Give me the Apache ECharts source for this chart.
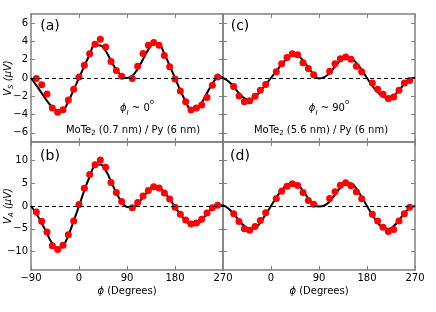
<!DOCTYPE html>
<html><head><meta charset="utf-8">
<script src="https://cdn.jsdelivr.net/npm/echarts@6/dist/echarts.min.js"></script>
<style>html,body{margin:0;padding:0;background:#fff}#c{width:436px;height:312px}</style>
</head><body><div id="c"></div>
<script>
// ---- data ----
const xTicks = [-90, 0, 90, 180, 270];
const yTicksS = [-6, -4, -2, 0, 2, 4, 6];
const yTicksA = [-10, -5, 0, 5, 10];

const curveAng = [-90,-80,-70,-60,-50,-40,-30,-20,-10,0,10,20,30,40,50,60,70,80,90,100,110,120,130,140,150,160,170,180,190,200,210,220,230,240,250,260,270];
const curveA = [0,-0.8,-1.65,-2.5,-3.2,-3.6,-3.5,-2.55,-1.3,0,1.3,2.55,3.6,3.55,2.95,1.9,0.9,0.25,0,0.25,1.0,2.05,3.1,3.75,3.65,2.65,1.35,0,-1.35,-2.55,-3.4,-3.4,-2.7,-1.65,-0.65,0.02,0.1];
const curveB = [0,-1.7,-3.7,-6.0,-8.2,-9.3,-8.7,-6.4,-3.3,0,3.4,6.4,8.8,9.1,7.8,5.4,2.9,0.9,-0.2,-0.3,0.5,1.9,3.3,4.2,4.05,3.0,1.5,-0.2,-1.8,-3.2,-4.1,-4.05,-3.1,-1.7,-0.4,0.25,0.05];
const curveC = [0,-0.35,-0.95,-1.65,-2.2,-2.42,-2.1,-1.45,-0.72,0,0.75,1.5,2.1,2.45,2.4,1.9,1.15,0.4,-0.05,0.1,0.55,1.25,1.9,2.22,2.15,1.65,0.9,0,-0.85,-1.55,-2.05,-2.22,-1.95,-1.35,-0.65,-0.15,0.02];
const curveD = [0.2,-0.55,-1.75,-3.15,-4.35,-5.0,-4.8,-3.6,-1.85,0,1.85,3.45,4.6,5.05,4.6,3.35,1.7,0.45,-0.12,0.1,1.0,2.5,4.0,5.0,4.95,3.8,1.95,0,-1.95,-3.65,-4.75,-5.0,-4.4,-3.1,-1.6,-0.5,0];

const angAB = [-80,-70,-60,-50,-40,-30,-20,-10,0,10,20,30,40,50,60,70,80,100,110,120,130,140,150,160,170,180,190,200,210,220,230,240,250,260];
const ptsA = [-0.05,-0.73,-1.75,-3.29,-3.75,-3.48,-2.4,-1.24,0.11,1.4,2.65,3.7,4.24,3.4,1.8,0.82,0.18,-0.05,1.28,2.68,3.57,3.88,3.57,2.45,1.22,-0.12,-1.41,-2.6,-3.49,-3.27,-2.96,-2.12,-0.8,0.12];
const ptsB = [-1.32,-3.33,-5.67,-8.72,-9.49,-8.57,-6.3,-3.26,0.32,3.88,6.88,9.05,10.05,8.45,5.16,2.93,0.99,-0.4,0.74,2.2,3.4,4.2,3.92,2.86,1.54,-0.29,-1.79,-3.07,-3.92,-3.7,-2.9,-1.54,-0.37,0.18];

const angCD = [-70,-60,-50,-40,-30,-20,-10,10,20,30,40,50,60,70,80,110,120,130,140,150,160,170,190,200,210,220,230,240,250,260];
const ptsC = [-0.93,-1.98,-2.6,-2.5,-2.0,-1.35,-0.7,0.69,1.57,2.25,2.65,2.55,1.68,1.03,0.36,0.75,1.57,2.1,2.29,2.04,1.29,0.69,-0.56,-1.24,-1.77,-2.25,-2.09,-1.35,-0.55,-0.28];
const ptsD = [-1.69,-3.37,-4.98,-5.28,-4.48,-3.15,-1.45,1.62,3.22,4.33,4.87,4.47,2.93,1.21,0.37,1.65,3.11,4.54,5.09,4.43,3.11,1.57,-1.8,-3.3,-4.65,-5.57,-5.16,-3.26,-1.72,-0.29];

// ---- build ----
const FONT = 'DejaVu Sans';
const frame = '#808080';
const grids = [
  {left:31, top:14, width:192, height:128},
  {left:31, top:142, width:192, height:128},
  {left:223, top:14, width:192, height:128},
  {left:223, top:142, width:192, height:128}
];
const yRange = [[-7,7,yTicksS],[-14,14,yTicksA],[-7,7,yTicksS],[-14,14,yTicksA]];
const fmt = v => v < 0 ? '\u2212' + (-v) : String(v);

const xAxis = [], yAxis = [];
grids.forEach((g, i) => {
  ['bottom','top'].forEach(pos => {
    const showLab = pos === 'bottom' && (i === 1 || i === 3);
    xAxis.push({
      type:'value', gridIndex:i, position:pos, min:-90, max:270, interval:90,
      axisLine:{show:true, onZero:false, lineStyle:{color:frame, width:1.5}},
      axisTick:{show:true, inside:true, length:4, lineStyle:{color:frame}, customValues:xTicks},
      axisLabel:{show:showLab, margin:3, fontSize:10, fontFamily:FONT, color:'#000',
        customValues: i === 3 ? xTicks.slice(1) : xTicks, formatter:fmt},
      splitLine:{show:false}
    });
  });
  ['left','right'].forEach(pos => {
    const r = yRange[i];
    const showLab = pos === 'left' && (i === 0 || i === 1);
    yAxis.push({
      type:'value', gridIndex:i, position:pos, min:r[0], max:r[1],
      axisLine:{show:true, onZero:false, lineStyle:{color:frame, width:1.5}},
      axisTick:{show:true, inside:true, length:4, lineStyle:{color:frame}, customValues:r[2]},
      axisLabel:{show:showLab, margin:3, fontSize:10, fontFamily:FONT, color:'#000', customValues:r[2], formatter:fmt},
      splitLine:{show:false}
    });
  });
});

const curves = [curveA, curveB, curveC, curveD];
const pts = [[angAB,ptsA],[angAB,ptsB],[angCD,ptsC],[angCD,ptsD]];
const series = [];
curves.forEach((cv, i) => {
  series.push({
    type:'line', xAxisIndex:2*i, yAxisIndex:2*i, smooth:true, showSymbol:false, z:2,
    data: curveAng.map((a, k) => [a, cv[k]]),
    lineStyle:{color:'#000', width:2},
    markLine:{silent:true, symbol:'none', label:{show:false},
      lineStyle:{color:'#000', type:[4,3], width:1}, data:[{yAxis:0}]}
  });
  series.push({
    type:'scatter', xAxisIndex:2*i, yAxisIndex:2*i, z:3, symbolSize:7,
    itemStyle:{color:'#ff0000', opacity:1},
    data: pts[i][0].map((a, k) => [a, pts[i][1][k]])
  });
});

const richBase = {
  i:{fontStyle:'italic', fontSize:10, fontFamily:FONT, lineHeight:14},
  s:{fontSize:7, fontFamily:FONT, verticalAlign:'bottom', lineHeight:10},
  si:{fontSize:7, fontStyle:'italic', fontFamily:FONT, verticalAlign:'bottom', lineHeight:10},
  u:{fontSize:7, fontFamily:FONT, verticalAlign:'top', lineHeight:18},
  n:{fontSize:10, fontFamily:FONT, lineHeight:14}
};
function txt(x, y, text, opts) {
  return Object.assign({type:'text', x:x, y:y, z:10, style:Object.assign({
    text:text, fill:'#000', font:'10px ' + FONT, rich:richBase, align:'center', verticalAlign:'middle'
  }, opts || {})});
}
const graphic = [
  txt(50, 26, '(a)', {font:'14px ' + FONT}),
  txt(50, 156, '(b)', {font:'14px ' + FONT}),
  txt(240, 26, '(c)', {font:'14px ' + FONT}),
  txt(240, 156, '(d)', {font:'14px ' + FONT}),
  txt(137, 108, '{i|\u03d5}{si|I}{n| ~ 0}{u|o}'),
  txt(329, 108, '{i|\u03d5}{si|I}{n| ~ 90}{u|o}'),
  txt(133, 130, '{n|MoTe}{s|2}{n| (0.7 nm) / Py (6 nm)}'),
  txt(321, 130, '{n|MoTe}{s|2}{n| (5.6 nm) / Py (6 nm)}'),
  txt(127, 291, '{i|\u03d5}{n| (Degrees)}'),
  txt(319, 291, '{i|\u03d5}{n| (Degrees)}'),
  Object.assign(txt(8, 78, '{i|V}{si|S}{i| (\u03bcV)}'), {rotation:Math.PI/2}),
  Object.assign(txt(8, 206, '{i|V}{si|A}{i| (\u03bcV)}'), {rotation:Math.PI/2})
];

const chart = echarts.init(document.getElementById('c'), null, {renderer:'canvas'});
chart.setOption({
  animation:false, backgroundColor:'#fff',
  grid:grids, xAxis:xAxis, yAxis:yAxis, series:series, graphic:graphic
});
</script></body></html>
